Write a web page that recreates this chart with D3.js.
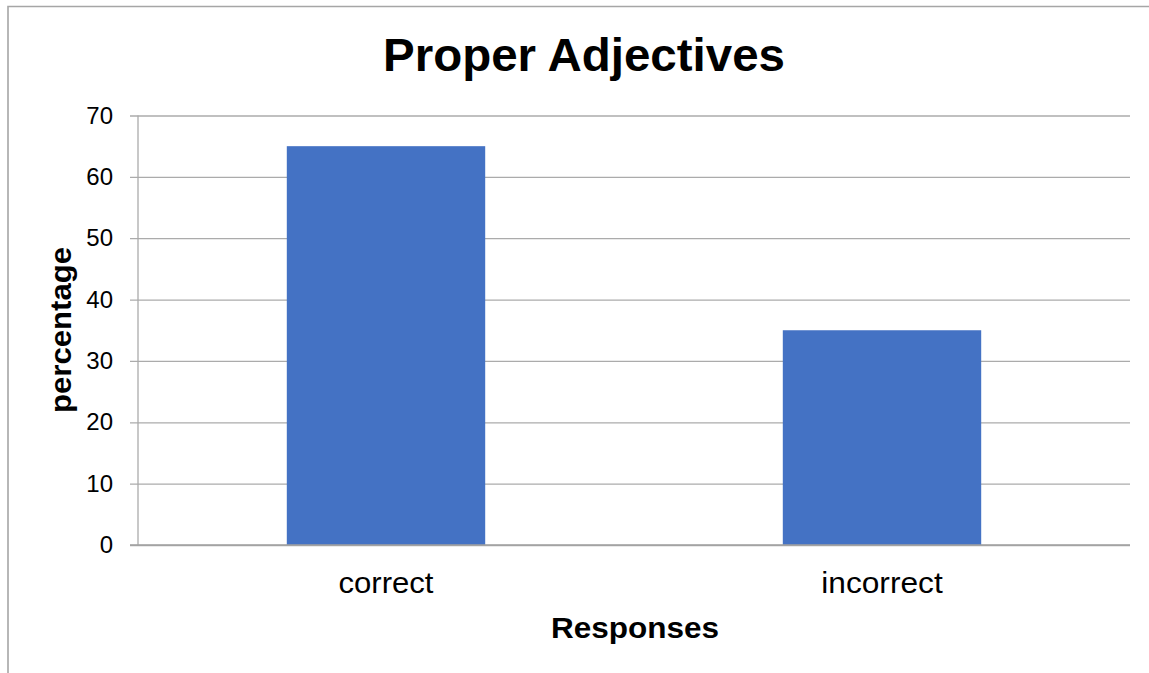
<!DOCTYPE html>
<html>
<head>
<meta charset="utf-8">
<script src="https://cdn.jsdelivr.net/npm/d3@7"></script>
<style>
  html, body { margin: 0; padding: 0; background: #fff; }
  svg { display: block; }
  text { font-family: "Liberation Sans", Arial, sans-serif; fill: #000; }
</style>
</head>
<body>
<svg id="chart" width="1149" height="673"></svg>
<script>
const categories = ["correct", "incorrect"];
const values = [65, 35];
const yTicks = [0, 10, 20, 30, 40, 50, 60, 70];
const titleText = "Proper Adjectives";
const xTitle = "Responses";
const yTitle = "percentage";

const W = 1149, H = 673;
const plot = { left: 138, right: 1130, top: 115.5, bottom: 545 };
const svg = d3.select("#chart");

// outer border (top and left visible)
svg.append("path")
  .attr("d", `M8,${H} L8,6.5 L${W},6.5`)
  .attr("fill", "none").attr("stroke", "#a6a6a6").attr("stroke-width", 1.6);

const x = d3.scaleBand().domain(categories).range([plot.left, plot.right])
  .paddingInner(0.6).paddingOuter(0.3);
const y = d3.scaleLinear().domain([0, 70]).range([plot.bottom, plot.top]);

// gridlines + ticks
const yAxis = d3.axisLeft(y).tickValues(yTicks).tickSize(-(plot.right - plot.left)).tickPadding(25).tickFormat(d3.format("d"));
const gy = svg.append("g").attr("transform", `translate(${plot.left},0)`).call(yAxis);
gy.select(".domain").remove();
gy.selectAll(".tick line").attr("x1", -8).attr("stroke", "#ababab").attr("stroke-width", 1.3);
gy.selectAll(".tick text").attr("font-size", 24).attr("fill", "#000")
  .style("font-family", "'Liberation Sans', Arial, sans-serif");

// y axis line
svg.append("line").attr("x1", plot.left).attr("x2", plot.left)
  .attr("y1", plot.top).attr("y2", plot.bottom)
  .attr("stroke", "#ababab").attr("stroke-width", 1.3);

// bars
svg.append("g").selectAll("rect").data(categories).join("rect")
  .attr("x", d => x(d))
  .attr("width", x.bandwidth())
  .attr("y", (d, i) => y(values[i]))
  .attr("height", (d, i) => y(0) - y(values[i]))
  .attr("fill", "#4472c4");

// baseline
svg.append("line").attr("x1", plot.left - 8).attr("x2", plot.right)
  .attr("y1", plot.bottom).attr("y2", plot.bottom)
  .attr("stroke", "#a0a0a0").attr("stroke-width", 1.6);

// category labels
const catWidths = { correct: 95, incorrect: 121.5 };
svg.append("g").selectAll("text").data(categories).join("text")
  .attr("x", d => x(d) + x.bandwidth() / 2)
  .attr("y", 593)
  .attr("text-anchor", "middle")
  .attr("font-size", 30)
  .attr("textLength", d => catWidths[d])
  .attr("lengthAdjust", "spacingAndGlyphs")
  .text(d => d);

// title
svg.append("text")
  .attr("x", 584).attr("y", 71)
  .attr("text-anchor", "middle")
  .attr("font-size", 46).attr("font-weight", "bold")
  .attr("textLength", 402).attr("lengthAdjust", "spacingAndGlyphs")
  .text(titleText);

// x axis title
svg.append("text")
  .attr("x", 635).attr("y", 638)
  .attr("text-anchor", "middle")
  .attr("font-size", 30).attr("font-weight", "bold")
  .attr("textLength", 168).attr("lengthAdjust", "spacingAndGlyphs")
  .text(xTitle);

// y axis title
svg.append("text")
  .attr("transform", "translate(71,330) rotate(-90)")
  .attr("text-anchor", "middle")
  .attr("font-size", 29).attr("font-weight", "bold")
  .attr("textLength", 166).attr("lengthAdjust", "spacingAndGlyphs")
  .text(yTitle);
</script>
</body>
</html>
